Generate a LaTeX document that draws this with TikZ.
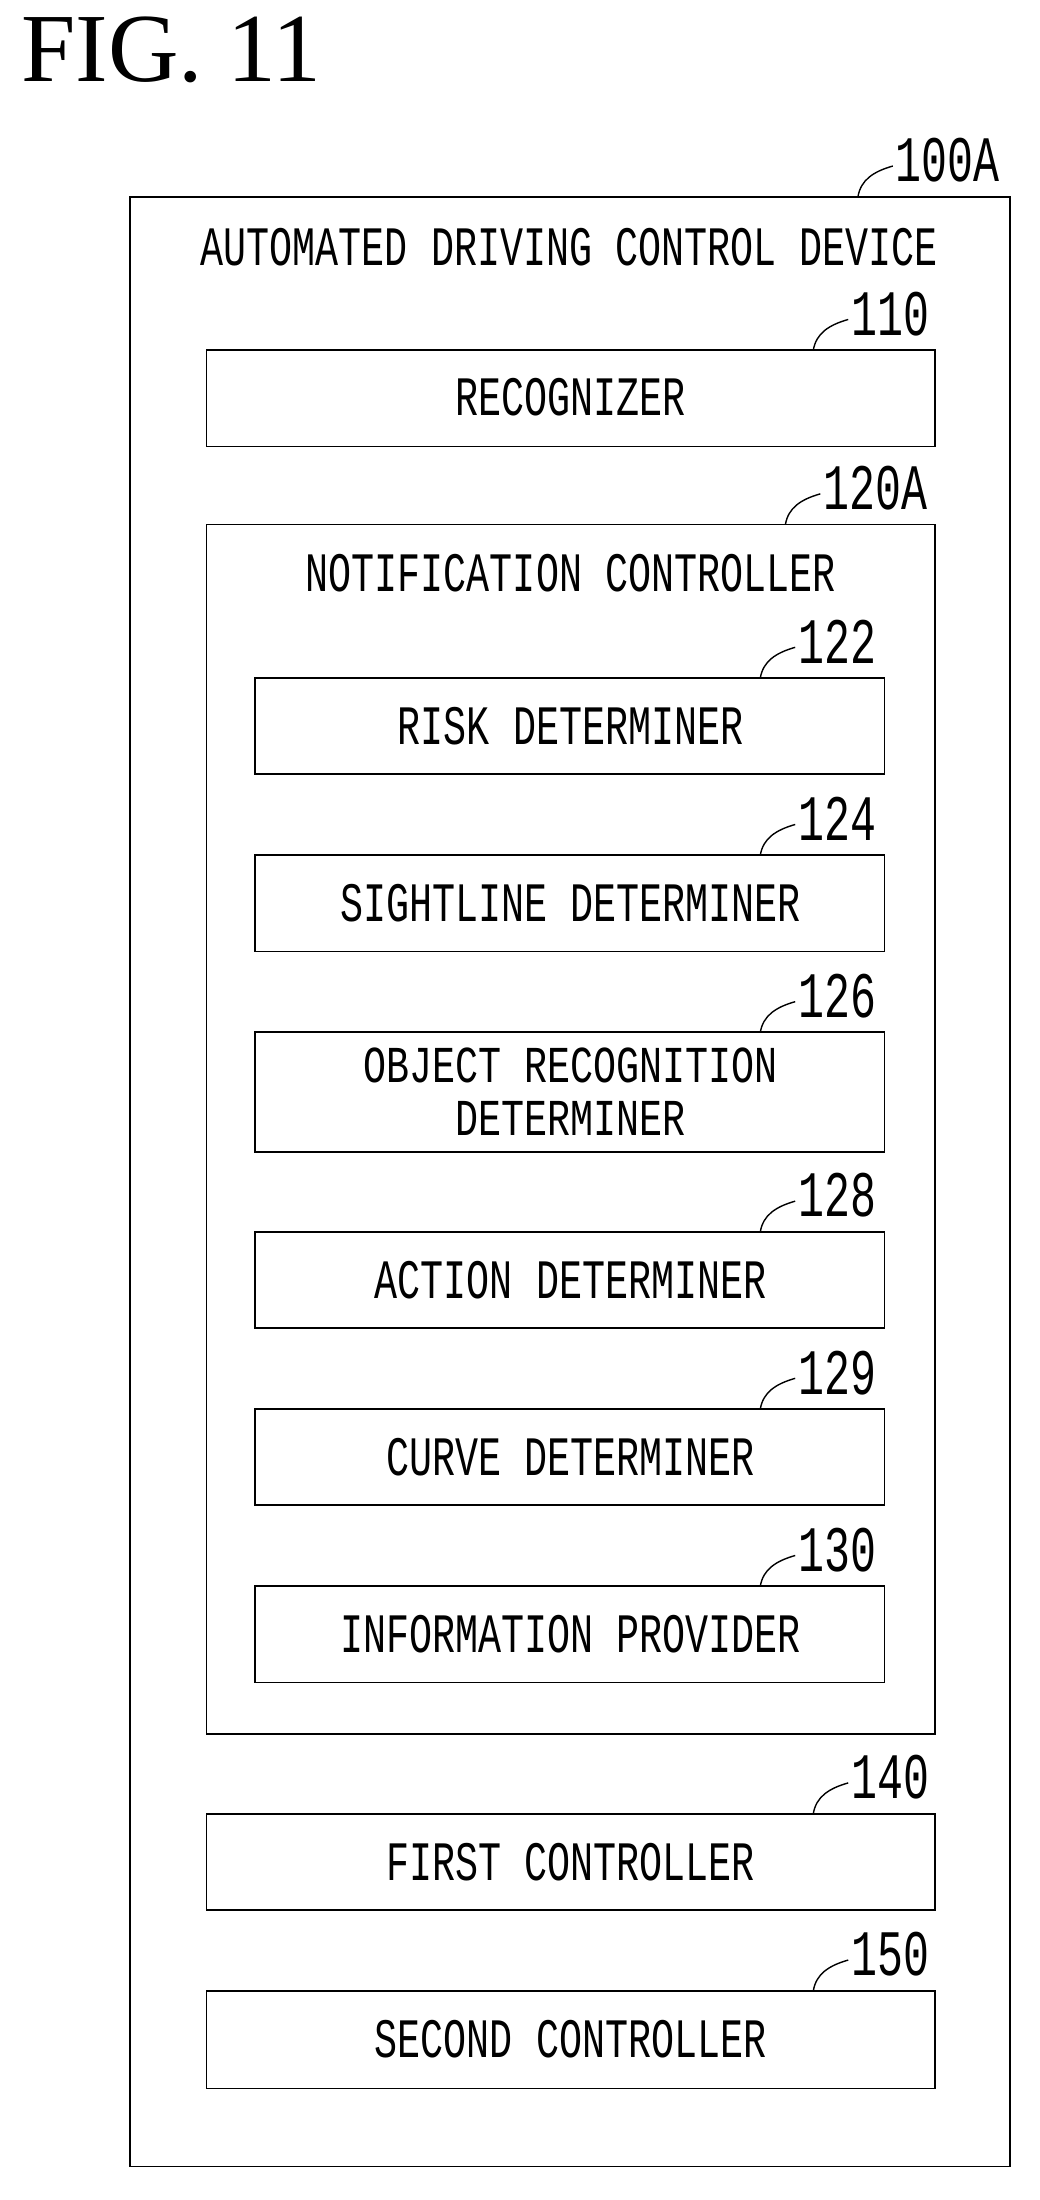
\documentclass[tikz,border=0pt]{standalone}
\usepackage{fontspec}
\setmainfont{Liberation Serif}
\setmonofont{Liberation Mono}
\newcommand{\bx}[1]{\scalebox{1}[1.45]{\ttfamily\fontsize{27.5}{30}\selectfont #1}}
\newcommand{\bxs}[1]{\scalebox{1}[1.35]{\ttfamily\fontsize{27.5}{30}\selectfont #1}}
\newcommand{\nm}[1]{\scalebox{1}[1.5]{\ttfamily\fontsize{31}{33}\selectfont #1}}
\begin{document}
\begin{tikzpicture}[x=1pt,y=-1pt,
  box/.style={draw,line width=1.3pt},
  lead/.style={line width=1pt},
  txt/.style={inner sep=0pt,align=center},
  lbl/.style={inner sep=0pt,anchor=south west}]
\useasboundingbox (0,0) rectangle (745,1577);
\node[anchor=north west,inner sep=0pt,font=\fontsize{70}{70}\selectfont] (fig) at (15,12) {FIG.\ 11};
% outer
\draw[box] (93,141) rectangle (724,1553);
\node[txt] (t100) at (408,177) {\bx{AUTOMATED DRIVING CONTROL DEVICE}};
\newcommand{\leader}[3]{%
  \coordinate (#1a) at (#2,#3);
  \coordinate (#1b) at (#2+25,#3-22);
  \draw[lead] (#1a) .. controls +(2,-12) and +(-14,4) .. (#1b);
  \node[lbl] (#1) at ([xshift=2pt,yshift=-12pt]#1b) {\nm{#1}};}
\leader{100A}{615}{141}
% recognizer
\draw[box] (148,251) rectangle (670,320);
\node[txt] (rec) at (409,285) {\bx{RECOGNIZER}};
\leader{110}{583}{251}
% notification
\draw[box] (148,376) rectangle (670,1243);
\node[txt] (nc) at (409,411) {\bx{NOTIFICATION CONTROLLER}};
\leader{120A}{563}{376}
% inner boxes
\foreach \t/\b/\s/\n in {486/555/RISK DETERMINER/122,613/682/SIGHTLINE DETERMINER/124,883/952/ACTION DETERMINER/128,1010/1079/CURVE DETERMINER/129,1137/1206/INFORMATION PROVIDER/130}{
  \draw[box] (183,\t) rectangle (634,\b);
  \node[txt] (n\n) at (409,{(\t+\b)/2}) {\bx{\s}};
  \leader{\n}{545}{\t}
}
\draw[box] (183,740) rectangle (634,826);
\node[txt] (n126a) at (409,764) {\bxs{OBJECT RECOGNITION}};
\node[txt] (n126b) at (409,802) {\bxs{DETERMINER}};
\leader{126}{545}{740}
% controllers
\draw[box] (148,1300) rectangle (670,1369);
\node[txt] (fc) at (409,1335) {\bx{FIRST CONTROLLER}};
\leader{140}{583}{1300}
\draw[box] (148,1427) rectangle (670,1497);
\node[txt] (sc) at (409,1462) {\bx{SECOND CONTROLLER}};
\leader{150}{583}{1427}
\end{tikzpicture}
\end{document}
